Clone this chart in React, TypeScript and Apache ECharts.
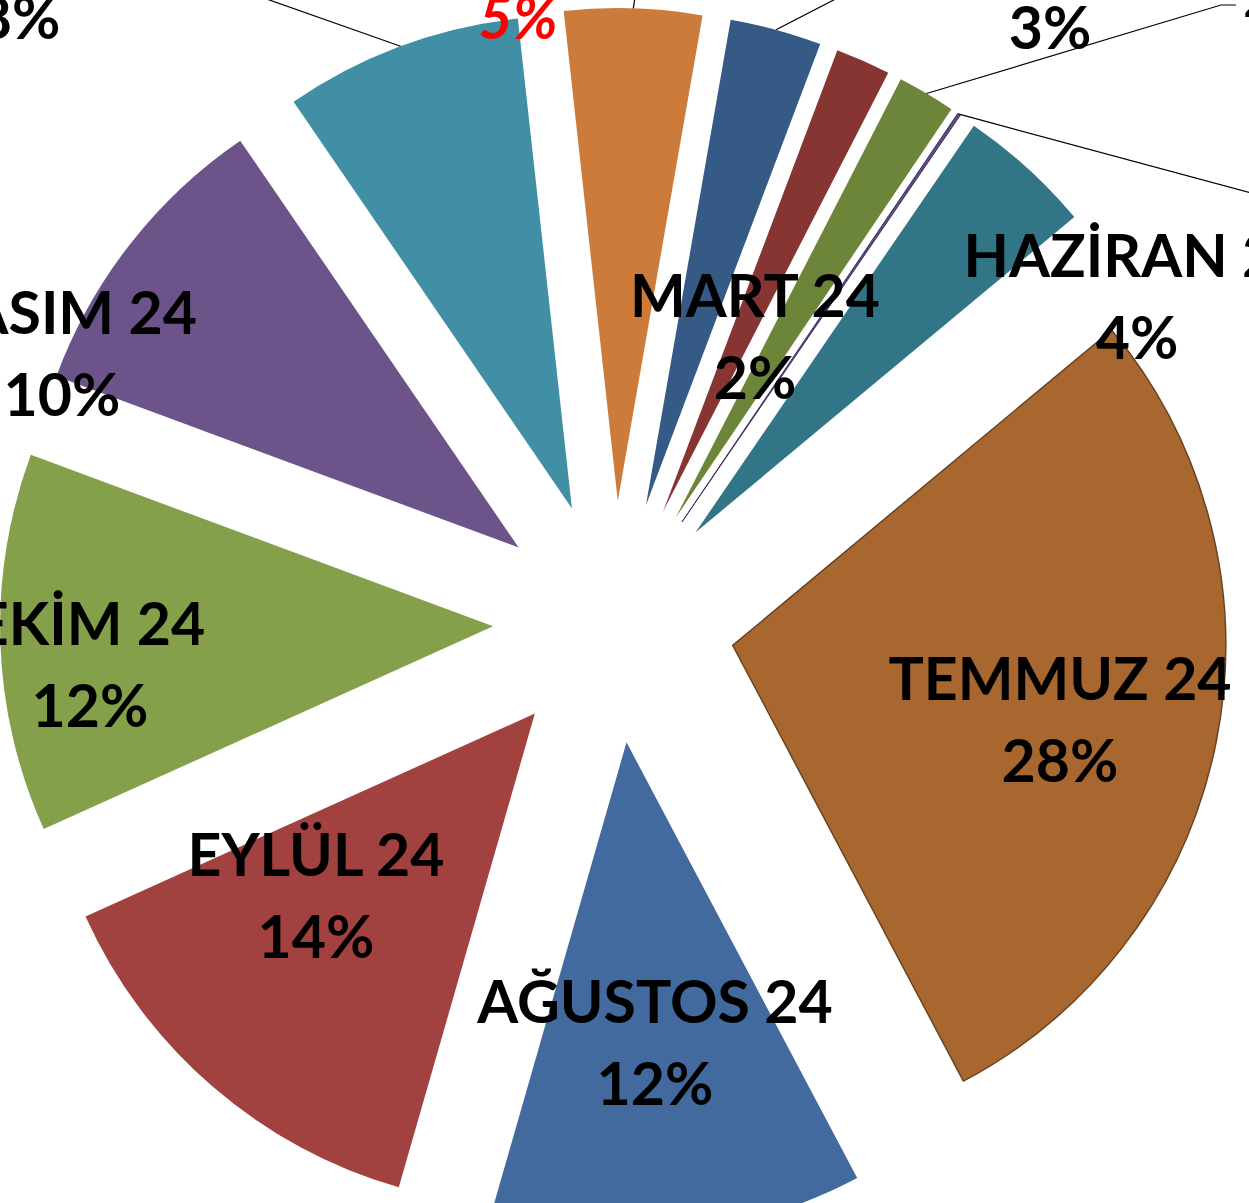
import React, { useEffect, useRef } from "react";
import * as echarts from "echarts";

// ---- data ----
const months = [
  "OCAK 24", "ŞUBAT 24", "MART 24", "NİSAN 24", "MAYIS 24", "HAZİRAN 24",
  "TEMMUZ 24", "AĞUSTOS 24", "EYLÜL 24", "EKİM 24", "KASIM 24", "ARALIK 24",
];
const values = [45, 30, 18, 19, 1, 44, 283, 122, 138, 124, 98, 78];

// ---- styles ----
const colors = [
  "#CC7B3B", "#355A86", "#873533", "#6C8538", "#5D4B82", "#317587",
  "#A8672F", "#436A9E", "#A14140", "#84A04B", "#6C5389", "#418FA5",
];
const CENTER: [number, number] = [614, 622];
const RADIUS = 493;
const OFFSET = 121;
const START = -6.3; // degrees clockwise from 12 o'clock
const FONT_SIZE = 59;
const LINE_H = 82;

// label block centres (null = not shown)
const labelPos: ({ x: number; y: number; align: string } | null)[] = [
  { x: 518, y: -25, align: "center" },
  { x: 1050, y: -15, align: "center" },
  { x: 755, y: 335, align: "center" },
  { x: 1243, y: -47, align: "left" },
  null,
  { x: 1137, y: 295, align: "center" },
  { x: 1060, y: 718, align: "center" },
  { x: 655, y: 1041, align: "center" },
  { x: 316, y: 894, align: "center" },
  { x: 90, y: 663, align: "center" },
  { x: 62, y: 352, align: "center" },
  { x: 19, y: -25, align: "center" },
];
// leader lines: slice index -> further points after the arc midpoint
const leaders: Record<number, [number, number][]> = {
  0: [[641, -40]],
  1: [[915, -42]],
  3: [[1221, 5], [1236, 5]],
  4: [[1340, 217]],
  11: [[190, -28]],
};

export default function App() {
  const ref = useRef<HTMLDivElement>(null);
  useEffect(() => {
    if (!ref.current) return;
    const chart = echarts.init(ref.current, undefined, { renderer: "svg" });
    const total = values.reduce((a, b) => a + b, 0);
    const mids: number[] = [];
    let cum = 0;
    values.forEach((v) => {
      mids.push(START + (360 * (cum + v / 2)) / total);
      cum += v;
    });
    const leaderGraphics: any[] = Object.keys(leaders).map((k) => {
      const i = Number(k);
      const a = (mids[i] * Math.PI) / 180;
      const d = RADIUS + OFFSET;
      const p0: [number, number] = [CENTER[0] + d * Math.sin(a), CENTER[1] - d * Math.cos(a)];
      return {
        type: "polyline",
        silent: true,
        z: 10,
        shape: { points: [p0, ...leaders[i]] },
        style: { stroke: "#000", lineWidth: 1.2, fill: null },
      };
    });

    const textGraphics: any[] = [];
    months.forEach((name, i) => {
      const p = labelPos[i];
      if (!p) return;
      const pct = Math.round((values[i] / total) * 100);
      const base = {
        fontFamily: "Lato",
        fontWeight: "bold",
        fontSize: FONT_SIZE,
        fill: "#000",
        align: p.align,
        verticalAlign: "middle",
      };
      textGraphics.push({
        type: "text",
        silent: true,
        z: 20,
        x: p.x,
        y: p.y - LINE_H / 2,
        style: { ...base, text: name },
      });
      textGraphics.push({
        type: "text",
        silent: true,
        z: 20,
        x: p.x,
        y: p.y + LINE_H / 2,
        style: i === 0
          ? { ...base, text: `${pct}%`, fill: "#FF0000", fontStyle: "italic" }
          : { ...base, text: `${pct}%` },
      });
    });

    const data = months.map((name, i) => ({
      name,
      value: values[i],
      selected: true,
      itemStyle: {
        color: colors[i],
        borderColor: i === 6 ? "#6A4322" : i === 4 ? "#3F3160" : colors[i],
        borderWidth: i === 6 ? 1.5 : i === 4 ? 1 : 0,
      },
    }));

    chart.setOption({
      animation: false,
      backgroundColor: "#ffffff",
      series: [
        {
          type: "pie",
          center: CENTER,
          radius: [0, RADIUS],
          startAngle: 90 - START,
          clockwise: true,
          selectedMode: "multiple",
          selectedOffset: OFFSET,
          avoidLabelOverlap: false,
          silent: true,
          emphasis: { disabled: true },
          data,
          label: { show: false },
          labelLine: { show: false },
        },
      ],
      graphic: [...leaderGraphics, ...textGraphics],
    });
    return () => chart.dispose();
  }, []);
  return (
    <div
      ref={ref}
      style={{ position: "fixed", left: 0, top: 0, width: 1249, height: 1203 }}
    />
  );
}
